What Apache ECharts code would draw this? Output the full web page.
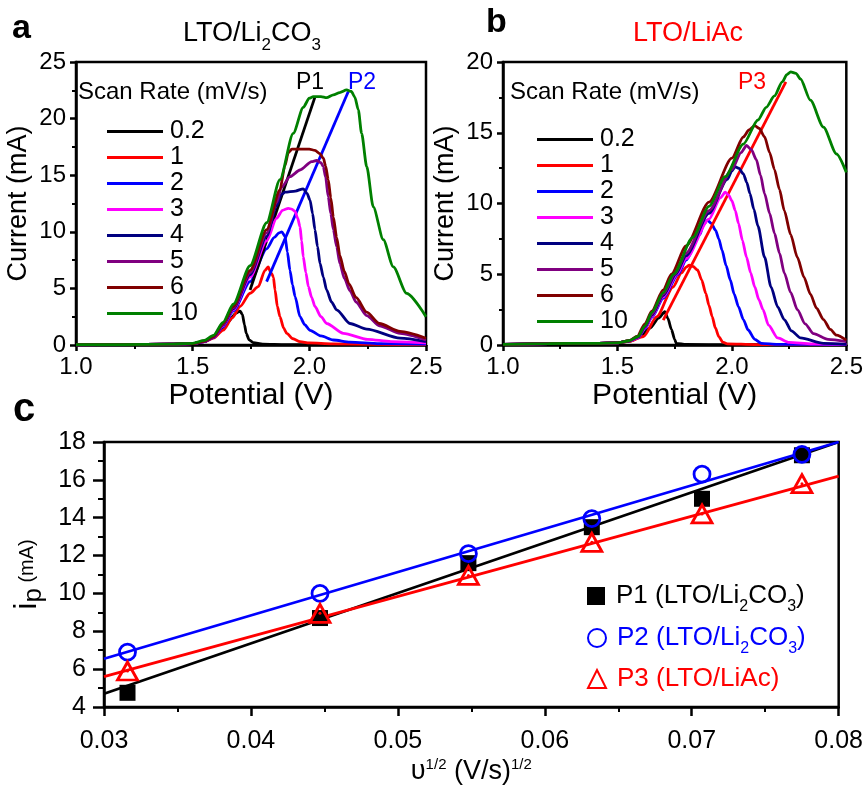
<!DOCTYPE html>
<html><head><meta charset="utf-8">
<script src="https://cdn.jsdelivr.net/npm/echarts@6/dist/echarts.min.js"></script>
<style>html,body{margin:0;padding:0;background:#fff}#c{width:866px;height:789px}</style>
</head><body><div id="c"></div>
<script>
// ---------- DATA ----------
const scanRates = ['0.2', '1', '2', '3', '4', '5', '6', '10'];
const curveColors = ['#000000', '#ff0000', '#0000ff', '#ff00ff', '#000080', '#800080', '#800000', '#008000'];

// Panel a: LTO/Li2CO3, [potential V, current mA]
const a_02 = [[1.0,0.02],[1.2,0.04],[1.4,0.07],[1.5,0.12],[1.55,0.3],[1.6,0.9],[1.65,2.0],[1.685,2.8],[1.703,3.0],[1.713,2.7],[1.722,1.8],[1.73,1.0],[1.742,0.45],[1.76,0.2],[1.8,0.08],[1.9,0.04],[2.2,0.02],[2.5,0.01]];
const a_1 = [[1.0,0.02],[1.2,0.04],[1.4,0.07],[1.5,0.12],[1.55,0.3],[1.589,0.6],[1.631,1.32],[1.67,2.4],[1.703,3.4],[1.746,4.57],[1.781,5.15],[1.81,6.6],[1.824,6.9],[1.832,6.5],[1.839,6.3],[1.846,6.0],[1.853,4.86],[1.863,3.4],[1.874,2.5],[1.89,1.5],[1.903,1.03],[1.93,0.55],[1.96,0.3],[2.0,0.18],[2.1,0.1],[2.3,0.05],[2.5,0.03]];
const a_2 = [[1.0,0.02],[1.2,0.04],[1.4,0.07],[1.5,0.12],[1.55,0.3],[1.589,0.65],[1.63,1.6],[1.674,3.0],[1.746,5.6],[1.817,8.5],[1.85,9.5],[1.87,9.9],[1.882,10.0],[1.896,9.57],[1.906,8.2],[1.917,6.6],[1.928,5.3],[1.939,4.27],[1.96,2.5],[1.98,1.8],[2.003,1.3],[2.05,0.8],[2.103,0.44],[2.174,0.25],[2.3,0.12],[2.5,0.08]];
const a_3 = [[1.0,0.02],[1.2,0.04],[1.4,0.07],[1.5,0.12],[1.55,0.3],[1.589,0.7],[1.63,1.7],[1.674,3.1],[1.746,6.0],[1.817,9.2],[1.86,11.2],[1.885,11.9],[1.91,12.07],[1.925,12.0],[1.939,11.8],[1.95,11.2],[1.96,10.45],[1.967,9.2],[1.974,7.8],[1.985,6.4],[1.996,5.15],[2.01,4.2],[2.024,3.4],[2.05,2.5],[2.074,1.9],[2.146,1.03],[2.25,0.5],[2.35,0.3],[2.5,0.18]];
const a_4 = [[1.0,0.02],[1.2,0.04],[1.4,0.07],[1.5,0.12],[1.55,0.3],[1.589,0.7],[1.63,1.75],[1.674,3.2],[1.746,6.2],[1.817,9.6],[1.86,12.3],[1.88,13.3],[1.896,13.5],[1.94,13.6],[1.974,13.8],[1.99,13.4],[2.003,12.8],[2.014,11.6],[2.024,10.2],[2.035,8.7],[2.046,7.2],[2.06,6.0],[2.074,4.86],[2.095,3.8],[2.117,3.1],[2.174,1.9],[2.246,1.4],[2.389,0.6],[2.5,0.3]];
const a_5 = [[1.0,0.02],[1.2,0.04],[1.4,0.07],[1.5,0.12],[1.55,0.3],[1.589,0.7],[1.63,1.8],[1.674,3.3],[1.746,6.4],[1.817,9.9],[1.86,12.6],[1.88,13.9],[1.917,14.87],[1.96,15.46],[2.01,16.2],[2.031,16.3],[2.05,16.1],[2.06,15.75],[2.07,14.8],[2.081,13.1],[2.092,11.6],[2.103,10.2],[2.117,8.7],[2.131,7.2],[2.15,5.9],[2.174,4.8],[2.2,3.8],[2.246,2.6],[2.3,1.7],[2.389,1.03],[2.5,0.44]];
const a_6 = [[1.0,0.02],[1.2,0.04],[1.4,0.07],[1.5,0.12],[1.55,0.35],[1.589,0.74],[1.63,1.9],[1.674,3.4],[1.746,6.6],[1.817,10.2],[1.874,13.7],[1.895,15.8],[1.91,17.0],[1.925,17.3],[1.97,17.3],[2.0,17.3],[2.024,17.2],[2.045,16.9],[2.06,16.5],[2.07,15.8],[2.081,14.6],[2.092,13.0],[2.103,11.3],[2.117,9.5],[2.131,7.9],[2.15,6.5],[2.17,5.4],[2.2,4.2],[2.246,2.9],[2.3,1.9],[2.389,1.2],[2.5,0.6]];
const a_10 = [[1.0,0.02],[1.2,0.04],[1.4,0.07],[1.5,0.15],[1.55,0.4],[1.589,0.85],[1.63,2.0],[1.674,3.6],[1.746,7.0],[1.817,10.8],[1.874,14.6],[1.931,18.7],[1.974,21.0],[2.0,21.8],[2.017,21.94],[2.05,21.95],[2.074,21.85],[2.103,22.1],[2.13,22.3],[2.16,22.53],[2.18,22.4],[2.195,21.9],[2.21,20.76],[2.224,18.7],[2.246,15.75],[2.274,12.2],[2.317,9.3],[2.36,6.9],[2.417,4.56],[2.5,2.5]];

// Panel b: LTO/LiAc
const b_02 = [[1.0,0.05],[1.2,0.1],[1.4,0.12],[1.5,0.15],[1.55,0.25],[1.6,0.6],[1.643,1.2],[1.68,1.9],[1.707,2.35],[1.72,1.9],[1.736,1.1],[1.75,0.4],[1.757,0.12],[1.8,0.04],[2.0,0.02],[2.5,0.01]];
const b_1 = [[1.0,0.05],[1.2,0.1],[1.4,0.12],[1.5,0.15],[1.55,0.25],[1.614,0.6],[1.672,2.0],[1.743,4.1],[1.78,5.1],[1.8,5.5],[1.814,5.65],[1.83,5.55],[1.85,5.3],[1.868,4.6],[1.886,3.65],[1.9,2.8],[1.914,2.0],[1.928,1.2],[1.943,0.59],[1.96,0.2],[1.98,0.08],[2.1,0.03],[2.5,0.02]];
const b_2 = [[1.0,0.05],[1.2,0.1],[1.4,0.12],[1.5,0.15],[1.55,0.28],[1.59,0.5],[1.62,1.15],[1.65,1.95],[1.7,3.3],[1.765,5.0],[1.8,6.0],[1.86,7.8],[1.876,8.5],[1.893,8.82],[1.91,8.6],[1.929,8.1],[1.943,7.5],[1.957,6.7],[1.975,5.6],[1.993,4.6],[2.01,3.6],[2.029,2.7],[2.05,1.8],[2.071,1.06],[2.1,0.4],[2.129,0.12],[2.2,0.05],[2.5,0.03]];
const b_3 = [[1.0,0.05],[1.2,0.1],[1.4,0.12],[1.5,0.15],[1.55,0.28],[1.59,0.5],[1.62,1.2],[1.65,2.0],[1.7,3.4],[1.76,5.0],[1.8,6.1],[1.9,8.9],[1.95,10.4],[1.971,10.8],[1.985,10.6],[2.0,10.2],[2.015,9.5],[2.029,8.6],[2.046,7.4],[2.064,6.2],[2.082,5.1],[2.1,4.1],[2.118,3.2],[2.136,2.5],[2.16,1.4],[2.2,0.5],[2.25,0.18],[2.35,0.08],[2.5,0.05]];
const b_4 = [[1.0,0.05],[1.2,0.1],[1.4,0.12],[1.5,0.15],[1.55,0.28],[1.59,0.55],[1.62,1.25],[1.65,2.1],[1.7,3.5],[1.755,5.0],[1.8,6.3],[1.9,9.3],[1.98,11.7],[2.0,12.3],[2.014,12.6],[2.03,12.5],[2.05,12.1],[2.065,11.5],[2.079,10.7],[2.096,9.6],[2.114,8.4],[2.143,6.2],[2.171,4.1],[2.2,2.7],[2.229,1.8],[2.26,1.0],[2.3,0.5],[2.4,0.12],[2.5,0.05]];
const b_5 = [[1.0,0.05],[1.2,0.1],[1.4,0.12],[1.5,0.15],[1.55,0.3],[1.59,0.6],[1.62,1.3],[1.65,2.2],[1.7,3.6],[1.75,5.0],[1.8,6.5],[1.9,9.5],[2.0,12.4],[2.04,13.6],[2.064,14.1],[2.085,13.8],[2.107,13.1],[2.125,12.0],[2.143,10.7],[2.165,9.3],[2.186,7.9],[2.208,6.5],[2.229,5.1],[2.257,3.7],[2.286,2.5],[2.32,1.5],[2.357,0.8],[2.42,0.4],[2.5,0.24]];
const b_6 = [[1.0,0.05],[1.2,0.1],[1.4,0.12],[1.5,0.15],[1.55,0.3],[1.586,0.6],[1.62,1.5],[1.65,2.4],[1.7,3.9],[1.736,5.0],[1.8,7.0],[1.9,10.1],[2.0,13.2],[2.05,14.7],[2.075,15.2],[2.1,15.5],[2.12,15.3],[2.143,14.7],[2.165,13.6],[2.186,12.4],[2.208,11.0],[2.229,9.5],[2.257,7.8],[2.286,6.2],[2.315,4.8],[2.343,3.6],[2.37,2.6],[2.4,1.8],[2.43,1.1],[2.457,0.7],[2.5,0.35]];
const b_10 = [[1.0,0.05],[1.2,0.1],[1.4,0.12],[1.5,0.15],[1.55,0.3],[1.59,0.6],[1.62,1.35],[1.65,2.3],[1.7,3.7],[1.745,5.0],[1.829,7.6],[1.9,9.8],[1.971,11.9],[2.05,14.2],[2.114,15.9],[2.15,16.8],[2.186,17.6],[2.22,18.6],[2.24,19.1],[2.257,19.3],[2.28,19.2],[2.3,18.8],[2.343,17.3],[2.4,15.4],[2.457,13.5],[2.5,12.2]];

// Arrows (start, end) in data coordinates
const arrowP1 = [[1.746,4.86],[2.024,21.9]];
const arrowP2 = [[1.817,5.6],[2.167,22.4]];
const arrowP3 = [[1.70,1.76],[2.236,18.6]];

// Panel c: peak current vs sqrt(scan rate)
const sqrtRate = [0.0316, 0.0447, 0.0548, 0.0632, 0.0707, 0.0775];
const ipP1 = [4.75, 8.7, 11.6, 13.5, 15.0, 17.3];
const ipP2 = [6.9, 10.0, 12.1, 13.95, 16.3, 17.35];
const ipP3 = [5.9, 8.95, 10.95, 12.7, 14.2, 15.8];
const fitX = [0.03, 0.08];
const fitP1 = [4.7, 18.0];
const fitP2 = [6.55, 18.0];
const fitP3 = [5.6, 16.2];

// Tick values
const ticksPotential = [1.0, 1.5, 2.0, 2.5];
const ticksCurrentA = [0, 5, 10, 15, 20, 25];
const ticksCurrentB = [0, 5, 10, 15, 20];
const ticksSqrt = [0.03, 0.04, 0.05, 0.06, 0.07, 0.08];
const ticksIp = [4, 6, 8, 10, 12, 14, 16, 18];

// ---------- CHART ----------
const FONT = "'Liberation Sans', Arial, Helvetica, sans-serif";
const LW = 2.8;
const curvesA = [a_02, a_1, a_2, a_3, a_4, a_5, a_6, a_10];
const curvesB = [b_02, b_1, b_2, b_3, b_4, b_5, b_6, b_10];

function axis(gridIndex, ticks, o) {
  return {
    gridIndex, type: 'value',
    min: ticks[0], max: ticks[ticks.length - 1], interval: ticks[1] - ticks[0],
    axisLine: {show: true, onZero: false, lineStyle: {color: '#000', width: 2.5}},
    axisTick: {show: true, inside: false, length: o.tickLen || 6, lineStyle: {color: '#000', width: 2.5}},
    minorTick: {show: true, splitNumber: 2, length: o.minorLen || 4, lineStyle: {color: '#000', width: 2}},
    splitLine: {show: false},
    minorSplitLine: {show: false},
    axisLabel: {color: '#000', fontSize: o.labelSize || 24, fontFamily: FONT, margin: o.margin || 10,
      formatter: o.fmt || (v => String(v)), showMinLabel: true, showMaxLabel: true},
    name: o.name, nameLocation: 'middle', nameGap: o.nameGap,
    nameTextStyle: Object.assign({color: '#000', fontFamily: FONT, fontSize: o.nameSize || 26}, o.nameStyle || {})
  };
}

const series = [];
scanRates.forEach((r, i) => {
  series.push({name: r, type: 'line', xAxisIndex: 0, yAxisIndex: 0, data: curvesA[i],
    symbol: 'none', showSymbol: false, smooth: 0.25, smoothMonotone: 'x',
    lineStyle: {color: curveColors[i], width: LW}, itemStyle: {color: curveColors[i]}, z: 2 + i, silent: true});
});
scanRates.forEach((r, i) => {
  series.push({name: r, type: 'line', xAxisIndex: 1, yAxisIndex: 1, data: curvesB[i],
    symbol: 'none', showSymbol: false, smooth: 0.25, smoothMonotone: 'x',
    lineStyle: {color: curveColors[i], width: LW}, itemStyle: {color: curveColors[i]}, z: 2 + i, silent: true});
});
function arrowSeries(name, xi, pts, color) {
  return {name, type: 'line', xAxisIndex: xi, yAxisIndex: xi, data: pts, symbol: 'none', showSymbol: false,
    lineStyle: {opacity: 0}, z: 20, silent: true,
    markLine: {silent: true, symbol: ['none', 'arrow'], symbolSize: [0, 12], animation: false,
      label: {show: false}, lineStyle: {color, width: LW, type: 'solid'},
      emphasis: {disabled: true},
      data: [[{coord: pts[0]}, {coord: pts[1]}]]}};
}
series.push(arrowSeries('arrowP1', 0, arrowP1, '#000000'));
series.push(arrowSeries('arrowP2', 0, arrowP2, '#0000ff'));
series.push(arrowSeries('arrowP3', 1, arrowP3, '#ff0000'));

function fitSeries(name, ys, color) {
  return {name, type: 'line', xAxisIndex: 2, yAxisIndex: 2, data: fitX.map((x, i) => [x, ys[i]]),
    symbol: 'none', showSymbol: false, lineStyle: {color, width: LW}, z: 3, silent: true};
}
series.push(fitSeries('fitP1', fitP1, '#000000'));
series.push(fitSeries('fitP2', fitP2, '#0000ff'));
series.push(fitSeries('fitP3', fitP3, '#ff0000'));
series.push({name: 'P1', type: 'scatter', xAxisIndex: 2, yAxisIndex: 2, data: sqrtRate.map((x, i) => [x, ipP1[i]]),
  symbol: 'rect', symbolSize: 16, itemStyle: {color: '#000000', opacity: 1}, z: 6, silent: true});
series.push({name: 'P2', type: 'scatter', xAxisIndex: 2, yAxisIndex: 2, data: sqrtRate.map((x, i) => [x, ipP2[i]]),
  symbol: 'circle', symbolSize: 16, itemStyle: {color: 'rgba(255,255,255,0)', borderColor: '#0000ff', borderWidth: 2.8, opacity: 1}, z: 7, silent: true});
series.push({name: 'P3', type: 'scatter', xAxisIndex: 2, yAxisIndex: 2, data: sqrtRate.map((x, i) => [x, ipP3[i]]),
  symbol: 'triangle', symbolSize: [20, 18], itemStyle: {color: 'rgba(255,255,255,0)', borderColor: '#ff0000', borderWidth: 2.8, opacity: 1}, z: 8, silent: true});
series.push({name: 'P3dot', type: 'scatter', xAxisIndex: 2, yAxisIndex: 2, data: sqrtRate.map((x, i) => [x, ipP3[i]]),
  symbol: 'circle', symbolSize: 3, itemStyle: {color: '#ff0000', opacity: 1}, z: 9, silent: true});

const subRich = (color, main, sub, lh) => ({
  m: {fontSize: main, lineHeight: lh, color, fontFamily: FONT, fontWeight: 'normal'},
  s: {fontSize: sub, lineHeight: sub, verticalAlign: 'bottom', color, fontFamily: FONT, fontWeight: 'normal'}
});

function scanLegend(left, top) {
  return {show: true, orient: 'vertical', left, top, data: scanRates, itemWidth: 56, itemHeight: 14, itemGap: 1,
    icon: 'path://M0,0L56,0L56,3L0,3Z', selectedMode: false,
    textStyle: {color: '#000', fontSize: 25, lineHeight: 25, fontFamily: FONT, padding: [0, 0, 0, 2]}};
}
function pLegend(name, label, top, color) {
  return {show: true, orient: 'vertical', left: 582, top, data: [name], itemWidth: 18, itemHeight: 18, selectedMode: false,
    formatter: () => label,
    textStyle: {color, fontFamily: FONT, padding: [0, 0, 0, 6], rich: subRich(color, 26, 16, 38)}};
}

const option = {
  animation: false,
  backgroundColor: '#ffffff',
  textStyle: {fontFamily: FONT},
  grid: [
    {left: 76, right: 440, top: 62, bottom: 444, show: true, borderColor: '#000', borderWidth: 2.5},
    {left: 503, right: 12, top: 62, bottom: 444, show: true, borderColor: '#000', borderWidth: 2.5},
    {left: 104, right: 17, top: 442, bottom: 82, show: true, borderColor: '#000', borderWidth: 2.5}
  ],
  xAxis: [
    axis(0, ticksPotential, {fmt: v => v.toFixed(1), name: 'Potential (V)', nameGap: 36, nameSize: 30}),
    axis(1, ticksPotential, {fmt: v => v.toFixed(1), name: 'Potential (V)', nameGap: 36, nameSize: 30}),
    axis(2, ticksSqrt, {fmt: v => v.toFixed(2), labelSize: 25, margin: 22, tickLen: 9, minorLen: 5,
      name: '{a|\u03c5}{p|1/2}{a| (V/s)}{p|1/2}', nameGap: 50,
      nameStyle: {rich: {a: {fontSize: 27, lineHeight: 30, color: '#000', fontFamily: FONT},
        p: {fontSize: 15, lineHeight: 15, verticalAlign: 'top', color: '#000', fontFamily: FONT}}}})
  ],
  yAxis: [
    axis(0, ticksCurrentA, {name: 'Current (mA)', nameGap: 44, nameSize: 27}),
    axis(1, ticksCurrentB, {name: 'Current (mA)', nameGap: 44, nameSize: 27}),
    axis(2, ticksIp, {labelSize: 25, margin: 18, tickLen: 11, minorLen: 6,
      name: '{i|i}{p|p}{m| (mA)}', nameGap: 52,
      nameStyle: {rich: {i: {fontSize: 32, lineHeight: 40, color: '#000', fontFamily: FONT},
        p: {fontSize: 26, lineHeight: 26, verticalAlign: 'bottom', color: '#000', fontFamily: FONT},
        m: {fontSize: 20, lineHeight: 40, color: '#000', fontFamily: FONT}}}})
  ],
  title: [
    {text: 'a', left: 12, top: 12, padding: 0, textStyle: {fontSize: 34, fontWeight: 'bold', color: '#000', fontFamily: FONT}},
    {text: 'b', left: 486, top: 6, padding: 0, textStyle: {fontSize: 34, fontWeight: 'bold', color: '#000', fontFamily: FONT}},
    {text: 'c', left: 13, top: 390, padding: 0, textStyle: {fontSize: 40, fontWeight: 'bold', color: '#000', fontFamily: FONT}},
    {text: '{m|LTO/Li}{s|2}{m|CO}{s|3}', left: 183, top: 14, padding: 0, textStyle: {fontWeight: 'normal', rich: subRich('#000', 27, 17, 40)}},
    {text: 'LTO/LiAc', left: 633, top: 20, padding: 0, textStyle: {fontSize: 27, fontWeight: 'normal', color: '#ff0000', fontFamily: FONT}},
    {text: 'Scan Rate (mV/s)', left: 78, top: 80, padding: 0, textStyle: {fontSize: 24, fontWeight: 'normal', color: '#000', fontFamily: FONT}},
    {text: 'Scan Rate (mV/s)', left: 510, top: 80, padding: 0, textStyle: {fontSize: 24, fontWeight: 'normal', color: '#000', fontFamily: FONT}},
    {text: 'P1', left: 296, top: 71, padding: 0, textStyle: {fontSize: 23, fontWeight: 'normal', color: '#000', fontFamily: FONT}},
    {text: 'P2', left: 348, top: 71, padding: 0, textStyle: {fontSize: 23, fontWeight: 'normal', color: '#0000ff', fontFamily: FONT}},
    {text: 'P3', left: 738, top: 71, padding: 0, textStyle: {fontSize: 23, fontWeight: 'normal', color: '#ff0000', fontFamily: FONT}}
  ],
  legend: [
    scanLegend(102, 114),
    scanLegend(532, 122),
    pLegend('P1', '{m|P1 (LTO/Li}{s|2}{m|CO}{s|3}{m|)}', 578, '#000000'),
    pLegend('P2', '{m|P2 (LTO/Li}{s|2}{m|CO}{s|3}{m|)}', 620, '#0000ff'),
    pLegend('P3', '{m|P3 (LTO/LiAc)}', 661, '#ff0000')
  ],
  series
};

const chart = echarts.init(document.getElementById('c'), null, {renderer: 'canvas'});
chart.setOption(option);
</script></body></html>
